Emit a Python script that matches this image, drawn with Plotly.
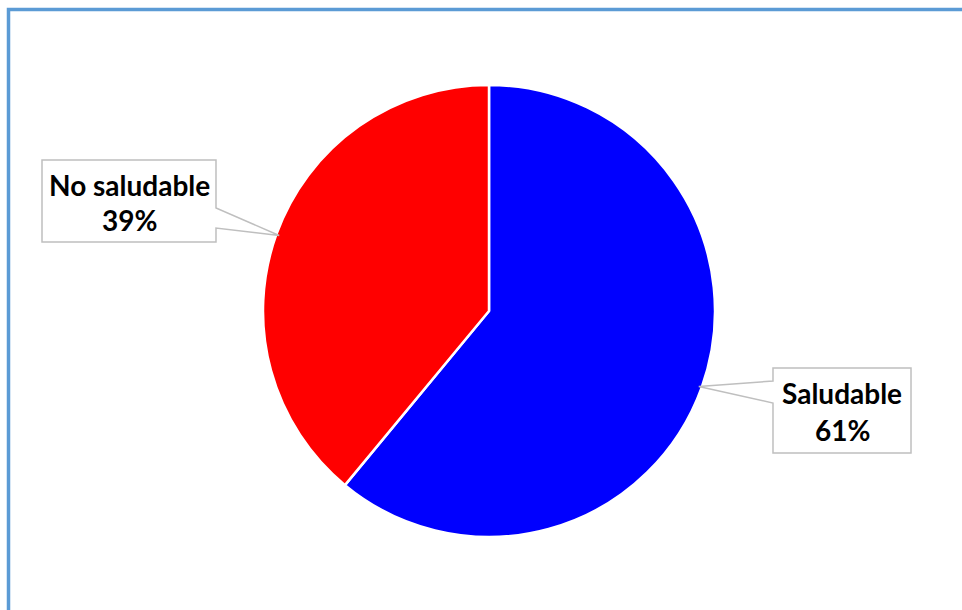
import math
import plotly.graph_objects as go

labels = ["Saludable", "No saludable"]
values = [61, 39]
colors = ["#0000FF", "#FF0000"]

W, H = 962, 610
cx, cy, R = 489, 311, 226  # pixel centre / radius of pie

fig = go.Figure(go.Pie(
    labels=labels, values=values, sort=False, direction="clockwise", rotation=0,
    marker=dict(colors=colors, line=dict(color="white", width=2.5)),
    textinfo="none", hoverinfo="label+percent", showlegend=False,
    domain=dict(x=[(cx - R) / W, (cx + R) / W], y=[(H - cy - R) / H, (H - cy + R) / H]),
))

def px(x, y):
    return x / W, 1 - y / H

# callout boxes (pixel layout): box, wedge attach y-range on side, side
boxes = [
    dict(x0=773, y0=368, x1=911, y1=453, wy0=381, wy1=403, side="left", tx=842, ty=[393, 430]),
    dict(x0=42, y0=160, x1=216, y1=242, wy0=208, wy1=228, side="right", tx=129, ty=[185, 220]),
]

total = sum(values)
cum = 0
shapes = []
annotations = []
for lab, v, b in zip(labels, values, boxes):
    mid = (cum + v / 2) / total * 2 * math.pi
    cum += v
    tipx = cx + (R - 3) * math.sin(mid)
    tipy = cy - (R - 3) * math.cos(mid)
    if b["side"] == "left":
        pts = [(b["x0"], b["y0"]), (b["x1"], b["y0"]), (b["x1"], b["y1"]), (b["x0"], b["y1"]),
               (b["x0"], b["wy1"]), (tipx, tipy), (b["x0"], b["wy0"])]
    else:
        pts = [(b["x0"], b["y0"]), (b["x1"], b["y0"]), (b["x1"], b["wy0"]), (tipx, tipy),
               (b["x1"], b["wy1"]), (b["x1"], b["y1"]), (b["x0"], b["y1"])]
    path = "M " + " L ".join("%.5f,%.5f" % px(*p) for p in pts) + " Z"
    shapes.append(dict(type="path", path=path, xref="paper", yref="paper",
                       fillcolor="white", line=dict(color="#BFBFBF", width=1.5)))
    pct = "%d%%" % round(100 * v / total)
    for txt, ty in zip([lab, pct], b["ty"]):
        xx, yy = px(b["tx"], ty)
        annotations.append(dict(x=xx, y=yy, xref="paper", yref="paper", text="<b>%s</b>" % txt,
                                showarrow=False, xanchor="center", yanchor="middle",
                                font=dict(family="Lato", size=28, color="#000000")))

# outer frame
shapes.append(dict(type="rect", xref="paper", yref="paper", x0=8.5 / W, y0=-0.1, x1=1.1, y1=1 - 9.5 / H,
                   line=dict(color="#5B9BD5", width=3.5), fillcolor="rgba(0,0,0,0)"))

fig.update_layout(
    width=W, height=H, margin=dict(l=0, r=0, t=0, b=0),
    paper_bgcolor="white", plot_bgcolor="white",
    shapes=shapes, annotations=annotations,
)

fig.write_html("out.html", config={"displayModeBar": False},
               post_script="document.body.style.margin='0';document.body.style.overflow='hidden';")
